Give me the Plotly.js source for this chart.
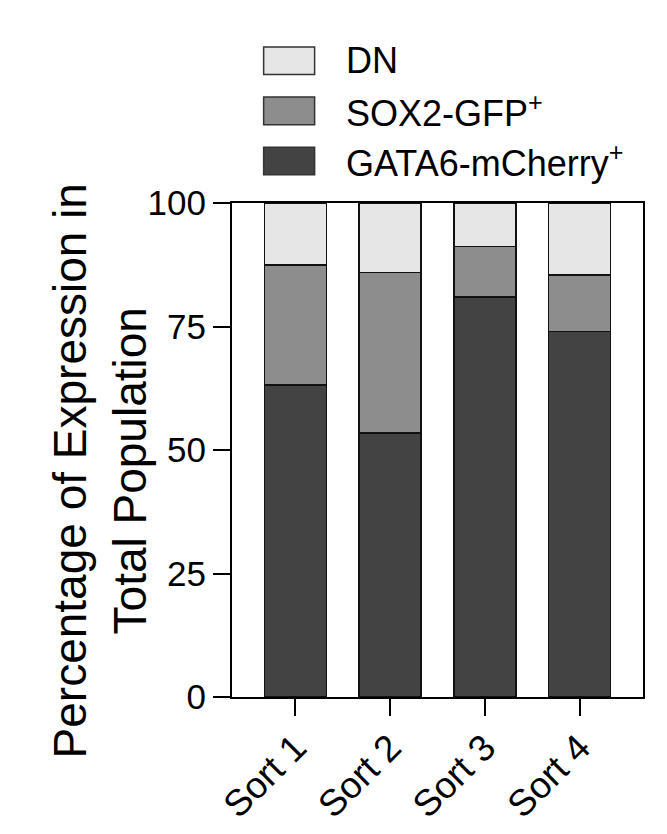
<!DOCTYPE html>
<html>
<head>
<meta charset="utf-8">
<script src="https://cdn.plot.ly/plotly-3.0.1.min.js"></script>
<style>
  html, body { margin: 0; padding: 0; background: #ffffff; }
  #chart { width: 667px; height: 834px; }
</style>
</head>
<body>
<div id="chart"></div>
<script>
const sorts = ["Sort 1", "Sort 2", "Sort 3", "Sort 4"];
const gata6 = [63.2, 53.4, 81.0, 74.0];
const sox2 = [24.3, 32.5, 10.2, 11.4];
const dn = [12.5, 14.1, 8.8, 14.6];

const seriesNames = ["DN", "SOX2-GFP<sup>+</sup>", "GATA6-mCherry<sup>+</sup>"];
const seriesColors = ["#e6e6e6", "#8e8d8e", "#434343"];
const yTicks = [0, 25, 50, 75, 100];
const yTitle = "Percentage of Expression in<br>Total Population";

const fontFamily = "Liberation Sans, Arial, sans-serif";

function barTrace(values, idx) {
    return {
        x: sorts,
        y: values,
        name: seriesNames[idx],
        type: "bar",
        marker: {
            color: seriesColors[idx],
            line: { color: "#111111", width: 1.5 }
        },
        hoverinfo: "x+y+name"
    };
}

// stack order bottom -> top
const traces = [barTrace(gata6, 2), barTrace(sox2, 1), barTrace(dn, 0)];

// legend drawn by hand so the swatches can be big boxes like the original
const shapes = [];
const annotations = [];
seriesNames.forEach((name, i) => {
    const yc = 1.288 - i * 0.1015;
    shapes.push({
        type: "rect", xref: "paper", yref: "paper",
        x0: 0.077, x1: 0.201, y0: yc - 0.028, y1: yc + 0.028,
        fillcolor: seriesColors[i],
        line: { color: "#333333", width: 1.5 }
    });
    annotations.push({
        xref: "paper", yref: "paper",
        x: 0.272, y: yc, xanchor: "left", yanchor: "middle",
        text: name, showarrow: false,
        font: { family: fontFamily, size: 36, color: "#000000" }
    });
});

// y axis title as an annotation so it can sit exactly where the original has it
annotations.push({
    xref: "paper", yref: "paper",
    x: -0.322, y: 0.458, xanchor: "center", yanchor: "middle",
    textangle: -90,
    text: yTitle, showarrow: false,
    font: { family: fontFamily, size: 46, color: "#000000" }
});

const layout = {
    width: 667,
    height: 834,
    margin: { l: 232, r: 24, t: 203, b: 137 },
    font: { family: fontFamily, color: "#000000" },
    barmode: "stack",
    bargap: 0.345,
    showlegend: false,
    paper_bgcolor: "#ffffff",
    plot_bgcolor: "#ffffff",
    xaxis: {
        range: [-0.67, 3.67],
        showline: true, linecolor: "#000000", linewidth: 2, mirror: true,
        ticks: "outside", ticklen: 17, tickwidth: 2, tickcolor: "#000000",
        tickangle: -45,
        ticklabelstandoff: -5,
        tickfont: { family: fontFamily, size: 37, color: "#000000" },
        showgrid: false, zeroline: false,
        fixedrange: true
    },
    yaxis: {
        range: [0, 100],
        tickvals: yTicks,
        showline: true, linecolor: "#000000", linewidth: 2, mirror: true,
        ticks: "outside", ticklen: 17, tickwidth: 2, tickcolor: "#000000",
        tickfont: { family: fontFamily, size: 35, color: "#000000" },
        showgrid: false, zeroline: false,
        fixedrange: true
    },
    shapes: shapes,
    annotations: annotations
};

Plotly.newPlot("chart", traces, layout, { displayModeBar: false });
</script>
</body>
</html>
